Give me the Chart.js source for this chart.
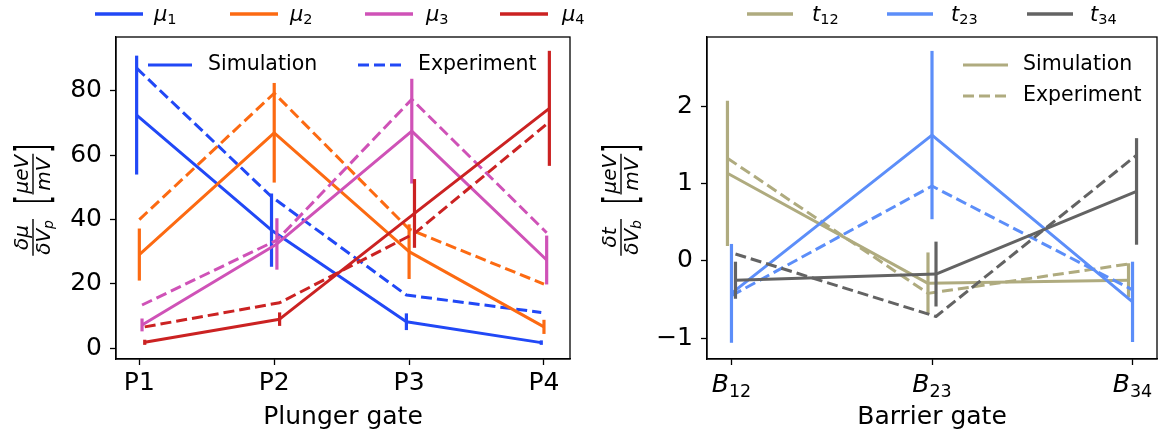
<!DOCTYPE html>
<html>
<head>
<meta charset="utf-8">
<script src="https://cdn.jsdelivr.net/npm/chart.js@4.4.1/dist/chart.umd.min.js"></script>
<style>
html, body { margin: 0; padding: 0; background: #fff; }
#wrap { position: relative; width: 1159px; height: 434px; }
.panel { position: absolute; top: 0; height: 434px; }
</style>
</head>
<body>
<div id="wrap">
  <div class="panel" style="left:0;width:610px"><canvas id="plunger"></canvas></div>
  <div class="panel" style="left:580px;width:579px"><canvas id="barrier"></canvas></div>
</div>
<script>
// ---- left panel: plunger gates ----
var plungerLabels = ['P1', 'P2', 'P3', 'P4'];
var plungerYTicks = [0, 20, 40, 60, 80];
var muSubs = ['1', '2', '3', '4'];

var mu1Sim = [72.5, 36.7, 8.2, 1.7];
var mu1Err = [18.5, 11.4, 2.6, 0.7];
var mu1Exp = [87.1, 47.1, 16.5, 11.1];

var mu2Sim = [29.1, 67.0, 30.0, 6.6];
var mu2Err = [8.1, 15.5, 8.5, 2.2];
var mu2Exp = [40.0, 79.3, 37.0, 19.9];

var mu3Sim = [7.2, 32.4, 67.5, 27.4];
var mu3Err = [2.0, 8.0, 16.3, 7.6];
var mu3Exp = [13.4, 33.6, 77.4, 35.9];

var mu4Sim = [1.8, 9.0, 41.9, 74.6];
var mu4Err = [0.8, 2.1, 10.7, 17.9];
var mu4Exp = [6.6, 14.1, 35.7, 70.4];

// ---- right panel: barrier gates ----
var barrierSubs = ['12', '23', '34'];
var barrierYTicks = [-1, 0, 1, 2];

var t12Sim = [1.135, -0.29, -0.25];
var t12Err = [0.94, 0.40, 0.22];
var t12Exp = [1.33, -0.42, -0.04];

var t23Sim = [-0.42, 1.63, -0.53];
var t23Err = [0.64, 1.09, 0.52];
var t23Exp = [-0.45, 0.97, -0.375];

var t34Sim = [-0.25, -0.17, 0.90];
var t34Err = [0.24, 0.42, 0.69];
var t34Exp = [0.09, -0.72, 1.37];

var muColors = ['#2148f6', '#fc6a12', '#cf52b7', '#cb2222'];
var tColors = ['#afab7f', '#5c8ef9', '#636363'];

var FONT = "'DejaVu Sans'";

function buildSets(sims, errs, exps, colors, offsets) {
    var sets = [];
    var n = sims.length * 2;
    sims.forEach(function (sim, k) {
        var j = sets.length;
        sets.push({
            data: sim.map(function (v, i) { return {x: i + offsets[k], y: v}; }),
            errors: errs[k],
            borderColor: colors[k],
            borderWidth: 3,
            pointRadius: 0,
            borderJoinStyle: 'round',
            order: n - j
        });
        sets.push({
            data: exps[k].map(function (v, i) { return {x: i + offsets[k], y: v}; }),
            borderColor: colors[k],
            borderWidth: 3,
            borderDash: [11, 5],
            pointRadius: 0,
            borderJoinStyle: 'round',
            order: n - j - 1
        });
    });
    return sets;
}

// draw text runs (for simple math-like labels), returns width
function runs(ctx, list, x, y, draw) {
    var cx = x;
    list.forEach(function (r) {
        ctx.font = (r.italic ? 'italic ' : '') + r.size + 'px ' + FONT;
        if (draw) ctx.fillText(r.t, cx, y + (r.dy || 0));
        cx += ctx.measureText(r.t).width;
    });
    return cx - x;
}

// rotated y title:  num/den [unum/uden]
function drawYTitle(ctx, cx, cy, num, den) {
    var unum = [{t: 'μeV', italic: true, size: 20}];
    var uden = [{t: 'mV', italic: true, size: 20}];
    ctx.save();
    ctx.translate(cx, cy);
    ctx.rotate(-Math.PI / 2);
    ctx.fillStyle = '#000';
    ctx.strokeStyle = '#000';
    ctx.textBaseline = 'alphabetic';
    ctx.textAlign = 'left';
    var parts = [
        {frac: [num, den]}, {gap: 15}, {br: '['}, {gap: 1},
        {frac: [unum, uden]}, {gap: 1}, {br: ']'}
    ];
    var total = 0;
    parts.forEach(function (p) {
        if (p.gap) p.w = p.gap;
        else if (p.br) { ctx.font = '22px ' + FONT; p.w = ctx.measureText(p.br).width; }
        else p.w = Math.max(runs(ctx, p.frac[0], 0, 0, false), runs(ctx, p.frac[1], 0, 0, false)) + 2;
        total += p.w;
    });
    var x = -total / 2;
    parts.forEach(function (p) {
        if (p.br) {
            ctx.save();
            ctx.translate(x, 0);
            ctx.scale(1, 2.1);
            ctx.font = '22px ' + FONT;
            ctx.fillText(p.br, 0, 0.315 * 22);
            ctx.restore();
        } else if (p.frac) {
            var wn = runs(ctx, p.frac[0], 0, 0, false);
            var wd = runs(ctx, p.frac[1], 0, 0, false);
            runs(ctx, p.frac[0], x + (p.w - wn) / 2, -5, true);
            runs(ctx, p.frac[1], x + (p.w - wd) / 2, 17, true);
            ctx.lineWidth = 1.4;
            ctx.beginPath();
            ctx.moveTo(x, 0);
            ctx.lineTo(x + p.w, 0);
            ctx.stroke();
        }
        x += p.w;
    });
    ctx.restore();
}

// errorbars + frame + custom text
function panelPlugin(cfg) {
    return {
        id: 'panel',
        afterDatasetDraw: function (chart, args) {
            var ds = chart.data.datasets[args.index];
            if (!ds.errors) return;
            var ctx = chart.ctx, xs = chart.scales.x, ys = chart.scales.y;
            ctx.save();
            ctx.strokeStyle = ds.borderColor;
            ctx.lineWidth = 3.2;
            ctx.lineCap = 'butt';
            ds.data.forEach(function (p, i) {
                var px = xs.getPixelForValue(p.x);
                ctx.beginPath();
                ctx.moveTo(px, ys.getPixelForValue(p.y - ds.errors[i]));
                ctx.lineTo(px, ys.getPixelForValue(p.y + ds.errors[i]));
                ctx.stroke();
            });
            ctx.restore();
        },
        afterDraw: function (chart) {
            var ctx = chart.ctx, a = chart.chartArea;
            ctx.save();
            ctx.strokeStyle = '#000';
            ctx.lineWidth = 1.3;
            ctx.strokeRect(a.left, a.top, a.right - a.left, a.bottom - a.top);

            // top legend
            ctx.fillStyle = '#000';
            ctx.textBaseline = 'alphabetic';
            ctx.textAlign = 'left';
            cfg.topLegend.forEach(function (it) {
                ctx.strokeStyle = it.color;
                ctx.lineWidth = 3.5;
                ctx.beginPath();
                ctx.moveTo(it.x1, 14);
                ctx.lineTo(it.x2, 14);
                ctx.stroke();
                runs(ctx, [{t: it.sym, italic: true, size: 21},
                           {t: it.sub, size: 14.5, dy: 3}], it.tx, 21, true);
            });

            // inner legend
            ctx.textBaseline = 'middle';
            cfg.innerLegend.forEach(function (it) {
                ctx.strokeStyle = it.color;
                ctx.lineWidth = 3;
                ctx.setLineDash(it.dash || []);
                ctx.beginPath();
                ctx.moveTo(it.x1, it.y);
                ctx.lineTo(it.x2, it.y);
                ctx.stroke();
                ctx.setLineDash([]);
                ctx.font = '20.5px ' + FONT;
                ctx.fillText(it.text, it.tx, it.y);
            });

            // math tick labels
            if (cfg.mathTicks) {
                ctx.textBaseline = 'alphabetic';
                cfg.mathTicks.forEach(function (sub, i) {
                    var list = [{t: 'B', italic: true, size: 25}, {t: sub, size: 17.5, dy: 5}];
                    var w = runs(ctx, list, 0, 0, false);
                    var px = chart.scales.x.getPixelForValue(i);
                    runs(ctx, list, px - w / 2, 392, true);
                });
            }
            ctx.restore();

            drawYTitle(ctx, cfg.titleX, 200, cfg.num, cfg.den);
        }
    };
}

function axisX(min, max, n, labels, title) {
    return {
        type: 'linear', min: min, max: max,
        afterBuildTicks: function (s) {
            s.ticks = labels.map(function (l, i) { return {value: i}; });
        },
        afterFit: function (s) { s.height = 75; },
        ticks: {
            callback: function (v) { return n ? labels[v] : ''; },
            font: {size: 25, family: FONT}, color: '#000', padding: 3,
            maxRotation: 0, autoSkip: false
        },
        grid: {display: true, drawOnChartArea: false, drawTicks: true, tickLength: 6, tickWidth: 1.3, tickColor: '#000'},
        border: {display: true, color: '#000', width: 1.3},
        title: {display: true, text: title, color: '#000', font: {size: 25, family: FONT}, padding: {top: 0, bottom: 2}}
    };
}

function axisY(min, max, ticks, width) {
    return {
        min: min, max: max,
        afterBuildTicks: function (s) {
            s.ticks = ticks.map(function (v) { return {value: v}; });
        },
        afterFit: function (s) { s.width = width; },
        ticks: {
            callback: function (v) { return String(v).replace('-', '\u2212'); },
            font: {size: 25, family: FONT}, color: '#000', padding: 8
        },
        grid: {display: true, drawOnChartArea: false, drawTicks: true, tickLength: 6, tickWidth: 1.3, tickColor: '#000'},
        border: {display: true, color: '#000', width: 1.3}
    };
}

var baseOpts = function (padRight, x, y) {
    return {
        responsive: true,
        maintainAspectRatio: false,
        animation: false,
        layout: {padding: {top: 37, right: padRight, left: 0, bottom: 0}},
        plugins: {legend: {display: false}, tooltip: {enabled: false}},
        scales: {x: x, y: y}
    };
};

var plungerChart = new Chart(document.getElementById('plunger').getContext('2d'), {
    type: 'line',
    data: {
        datasets: buildSets([mu1Sim, mu2Sim, mu3Sim, mu4Sim], [mu1Err, mu2Err, mu3Err, mu4Err],
            [mu1Exp, mu2Exp, mu3Exp, mu4Exp], muColors, [-0.02, 0, 0.02, 0.04])
    },
    options: baseOpts(40, axisX(-0.173, 3.193, true, plungerLabels, 'Plunger gate'),
        axisY(-3.4, 96.8, plungerYTicks, 116)),
    plugins: [panelPlugin({
        titleX: 33,
        num: [{t: 'δμ', italic: true, size: 20}],
        den: [{t: 'δV', italic: true, size: 20}, {t: 'p', italic: true, size: 14, dy: 3}],
        topLegend: muSubs.map(function (s, k) {
            return {color: muColors[k], x1: 95 + k * 135, x2: 143 + k * 135, tx: 154 + k * 136, sym: 'μ', sub: s};
        }),
        innerLegend: [
            {color: muColors[0], x1: 148, x2: 192, y: 65, tx: 208, text: 'Simulation'},
            {color: muColors[0], x1: 358, x2: 402, y: 65, tx: 418, text: 'Experiment', dash: [11, 5]}
        ]
    })]
});

var barrierChart = new Chart(document.getElementById('barrier').getContext('2d'), {
    type: 'line',
    data: {
        datasets: buildSets([t12Sim, t23Sim, t34Sim], [t12Err, t23Err, t34Err],
            [t12Exp, t23Exp, t34Exp], tColors, [-0.02, 0, 0.02])
    },
    options: baseOpts(2, axisX(-0.122, 2.122, false, barrierSubs, 'Barrier gate'),
        axisY(-1.27, 2.9, barrierYTicks, 127)),
    plugins: [panelPlugin({
        titleX: 41,
        num: [{t: 'δt', italic: true, size: 20}],
        den: [{t: 'δV', italic: true, size: 20}, {t: 'b', italic: true, size: 14, dy: 3}],
        topLegend: ['12', '23', '34'].map(function (s, k) {
            return {color: tColors[k], x1: 167 + k * 140, x2: 213 + k * 140, tx: 232 + k * 139, sym: 't', sub: s};
        }),
        innerLegend: [
            {color: tColors[0], x1: 383, x2: 428, y: 65, tx: 443, text: 'Simulation'},
            {color: tColors[0], x1: 383, x2: 428, y: 96, tx: 443, text: 'Experiment', dash: [11, 5]}
        ],
        mathTicks: barrierSubs
    })]
});
</script>
</body>
</html>
